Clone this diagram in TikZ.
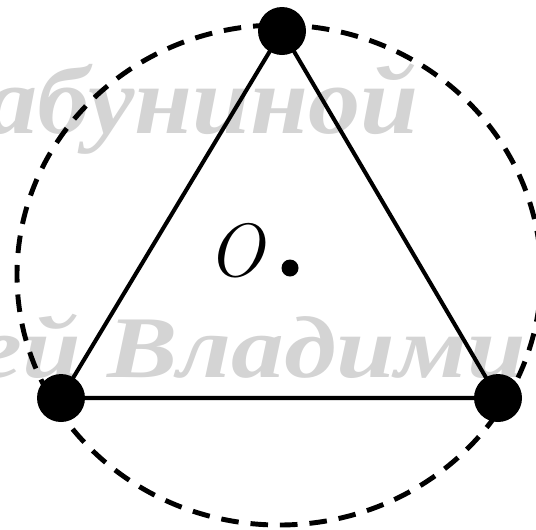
\documentclass[tikz,border=0pt]{standalone}
\usepackage{fontspec}
\newfontfamily\wmfont{Liberation Serif}
\begin{document}
\begin{tikzpicture}[x=0.02cm,y=-0.02cm,
  vertex/.style={circle,fill=black,inner sep=0pt,minimum size=0.96cm},
  side/.style={line width=2.3pt},
  circum/.style={line width=2.8pt,dash pattern=on 10pt off 6.8pt},
  wm/.style={text=black!17,inner sep=0pt,font=\wmfont\bfseries\itshape}]
\useasboundingbox (0,0) rectangle (536,529);
\clip (0,0) rectangle (536,529);
% watermark
\node[wm,anchor=base west] (w1) at (-15,133) {\scalebox{1.08}[1]{\fontsize{55}{60}\selectfont абуниной}};
\node[wm,anchor=base west] (w2) at (-25,377) {\scalebox{1.2}[1]{\fontsize{50}{60}\selectfont ей Владими}};
% circumscribed circle
\draw[circum] (279,275) ellipse [x radius=262, y radius=250];
% vertices
\coordinate (A) at (282,31);
\coordinate (B) at (61,398);
\coordinate (C) at (498,398);
\draw[side] (A) -- (B) -- (C) -- cycle;
\node[vertex] (vA) at (A) {};
\node[vertex] (vB) at (B) {};
\node[vertex] (vC) at (C) {};
% centre
\node[inner sep=0pt,font=\fontsize{43}{50}\selectfont\itshape] (lo) at (236,251) {O};
\fill (290,268) circle [radius=8.5] coordinate (o);
\end{tikzpicture}
\end{document}
